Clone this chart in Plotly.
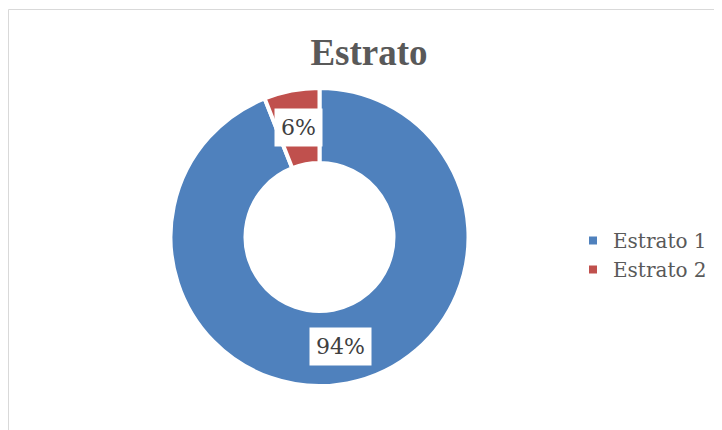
import math
import plotly.graph_objects as go

# datos
categorias = ['Estrato 1', 'Estrato 2']
porcentajes = [94, 6]
colores = ['#4F81BD', '#C0504D']
titulo = 'Estrato'

W, H = 722, 430
OFF = 8  # margen del body de la pagina

# centro y radios visibles de la dona (pixeles de pantalla)
cx, cy = 319.5 - OFF, 237 - OFF
r_ext, r_int = 147, 76
borde = 4
R = r_ext + borde / 2
hueco = (r_int - borde / 2) / R

dom_x = [(cx - R) / W, (cx + R) / W]
dom_y = [1 - (cy + R) / H, 1 - (cy - R) / H]

fig = go.Figure(go.Pie(
    labels=categorias,
    values=porcentajes,
    marker=dict(colors=colores, line=dict(color='white', width=borde)),
    hole=hueco,
    sort=False,
    direction='clockwise',
    rotation=0,
    textinfo='none',
    hoverinfo='label+percent',
    domain=dict(x=dom_x, y=dom_y),
))

# etiquetas con fondo blanco, en el centro del anillo de cada porcion
total = sum(porcentajes)
r_medio = (r_ext + r_int) / 2
acum = 0
anotaciones = []
for v in porcentajes:
    ang = 2 * math.pi * (acum + v / 2) / total
    acum += v
    px = cx + r_medio * math.sin(ang)
    py = cy - r_medio * math.cos(ang)
    anotaciones.append(dict(
        x=px / W, y=1 - py / H, xref='paper', yref='paper',
        xanchor='center', yanchor='middle',
        text=f'{round(100 * v / total)}%', showarrow=False,
        bgcolor='white', borderpad=6,
        font=dict(family='DejaVu Serif', size=22, color='#404040'),
    ))

fig.update_layout(
    width=W,
    height=H,
    margin=dict(l=0, r=0, t=0, b=0),
    paper_bgcolor='white',
    plot_bgcolor='white',
    title=dict(
        text=f'<b>{titulo}</b>',
        x=(369 - OFF) / W, xanchor='center',
        y=1 - (52 - OFF) / H, yanchor='middle',
        font=dict(family='Liberation Serif', size=37, color='#595959'),
    ),
    legend=dict(
        x=(573 - OFF) / W, xanchor='left',
        y=1 - (255 - OFF) / H, yanchor='middle',
        font=dict(family='DejaVu Serif', size=20, color='#595959'),
    ),
    annotations=anotaciones,
    shapes=[dict(
        type='rect', xref='paper', yref='paper',
        x0=0.5 / W, x1=1.05, y0=-0.05, y1=1 - 1.5 / H,
        line=dict(color='#D9D9D9', width=1),
        layer='below',
    )],
)

fig.write_html("out.html")
